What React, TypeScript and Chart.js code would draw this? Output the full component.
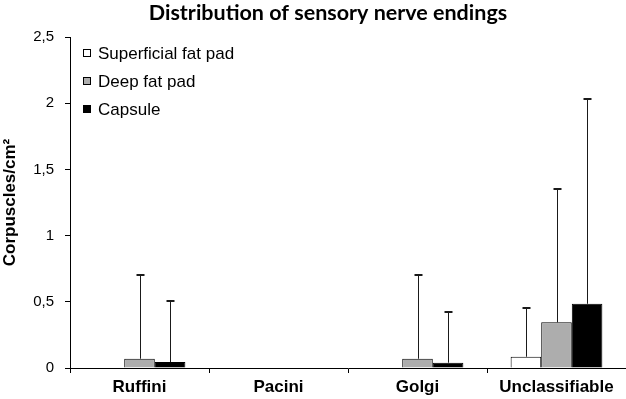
import React, { useEffect, useRef } from "react";
import { Chart, registerables } from "chart.js";

Chart.register(...registerables);

const categories = ["Ruffini", "Pacini", "Golgi", "Unclassifiable"];
const seriesNames = ["Superficial fat pad", "Deep fat pad", "Capsule"];
const superficial = [0, 0, 0, 0.085];
const superficialErr = [0, 0, 0, 0.37];
const deep = [0.07, 0, 0.07, 0.345];
const deepErr = [0.635, 0, 0.63, 1.01];
const capsule = [0.045, 0, 0.04, 0.485];
const capsuleErr = [0.46, 0, 0.38, 1.55];
const colors = ["#FFFFFF", "#ADADAD", "#000000"];
const yTicks = [0, 0.5, 1, 1.5, 2, 2.5];
const titleText = "Distribution of sensory nerve endings";
const yTitle = "Corpuscles/cm²";

const FONT = "'Liberation Sans', Arial, sans-serif";

const errorBarPlugin = {
  id: "errorBars",
  afterDatasetsDraw(chart: any) {
    const ctx = chart.ctx;
    const yScale = chart.scales.y;
    const errs = [superficialErr, deepErr, capsuleErr];
    ctx.save();
    chart.data.datasets.forEach((ds: any, di: number) => {
      const meta = chart.getDatasetMeta(di);
      meta.data.forEach((el: any, i: number) => {
        const v = ds.data[i];
        const e = errs[di][i];
        if (!e || e <= 0) return;
        const x = el.x;
        const yTop = yScale.getPixelForValue(v + e);
        const yBase = el.y;
        ctx.strokeStyle = "#1a1a1a";
        ctx.lineWidth = 1;
        ctx.beginPath();
        ctx.moveTo(Math.round(x) + 0.5, yBase);
        ctx.lineTo(Math.round(x) + 0.5, yTop);
        ctx.stroke();
        ctx.lineWidth = 2;
        ctx.beginPath();
        ctx.moveTo(Math.round(x) - 3.5, Math.round(yTop));
        ctx.lineTo(Math.round(x) + 4.5, Math.round(yTop));
        ctx.stroke();
      });
    });
    ctx.restore();
  },
};

const decorPlugin = {
  id: "decor",
  afterDraw(chart: any) {
    const ctx = chart.ctx;
    ctx.save();
    // title
    ctx.fillStyle = "#000";
    ctx.font = `bold 21.5px Lato, ${FONT}`;
    ctx.textAlign = "center";
    ctx.textBaseline = "middle";
    ctx.fillText(titleText, 328, 13);
    // legend
    const rows = [53, 81, 109];
    ctx.font = `17px ${FONT}`;
    ctx.textAlign = "left";
    chart.data.datasets.forEach((ds: any, i: number) => {
      const y = rows[i];
      ctx.fillStyle = ds.backgroundColor;
      ctx.fillRect(83, y - 4, 8, 8);
      ctx.strokeStyle = "#000";
      ctx.lineWidth = 1;
      ctx.strokeRect(83.5, y - 3.5, 7, 7);
      ctx.fillStyle = "#000";
      ctx.fillText(ds.label, 98, y + 1);
    });
    ctx.restore();
  },
};

export default function App() {
  const ref = useRef<HTMLCanvasElement>(null);
  useEffect(() => {
    if (!ref.current) return;
    const values = [superficial, deep, capsule];
    const chart = new Chart(ref.current, {
      type: "bar",
      data: {
        labels: categories,
        datasets: seriesNames.map((name, i) => ({
          label: name,
          data: values[i],
          backgroundColor: colors[i],
          borderColor: "#000",
          borderWidth: 1,
          categoryPercentage: 0.66,
          barPercentage: 1.0,
        })),
      },
      options: {
        animation: false,
        responsive: true,
        maintainAspectRatio: false,
        layout: { padding: { top: 37, left: 0, right: 0, bottom: 0 } },
        plugins: {
          legend: { display: false },
          title: { display: false },
          tooltip: { enabled: false },
        },
        scales: {
          x: {
            grid: {
              display: true,
              drawOnChartArea: false,
              drawTicks: true,
              tickLength: 5,
              color: "#000",
              offset: true,
            },
            border: { display: true, color: "#000", width: 1 },
            ticks: {
              color: "#000",
              font: { family: FONT, size: 17, weight: "bold" },
              padding: 4,
            },
            afterFit: (s: any) => {
              s.height = 31;
            },
          },
          y: {
            min: 0,
            max: 2.5,
            afterBuildTicks: (s: any) => {
              s.ticks = yTicks.map((v) => ({ value: v }));
            },
            grid: {
              display: true,
              drawOnChartArea: false,
              drawTicks: true,
              tickLength: 5,
              color: "#000",
            },
            border: { display: true, color: "#000", width: 1 },
            ticks: {
              color: "#000",
              font: { family: FONT, size: 15 },
              padding: 11,
              callback: (v: any) => String(v).replace(".", ","),
            },
            title: {
              display: true,
              text: yTitle,
              color: "#000",
              font: { family: FONT, size: 17, weight: "bold" },
              padding: { top: 0, bottom: 0 },
            },
            afterFit: (s: any) => {
              s.width = 70;
            },
          },
        },
      },
      plugins: [errorBarPlugin, decorPlugin],
    });
    return () => chart.destroy();
  }, []);
  return (
    <div style={{ position: "absolute", left: 0, top: 0, width: 626, height: 399, background: "#fff" }}>
      <canvas ref={ref} />
    </div>
  );
}
